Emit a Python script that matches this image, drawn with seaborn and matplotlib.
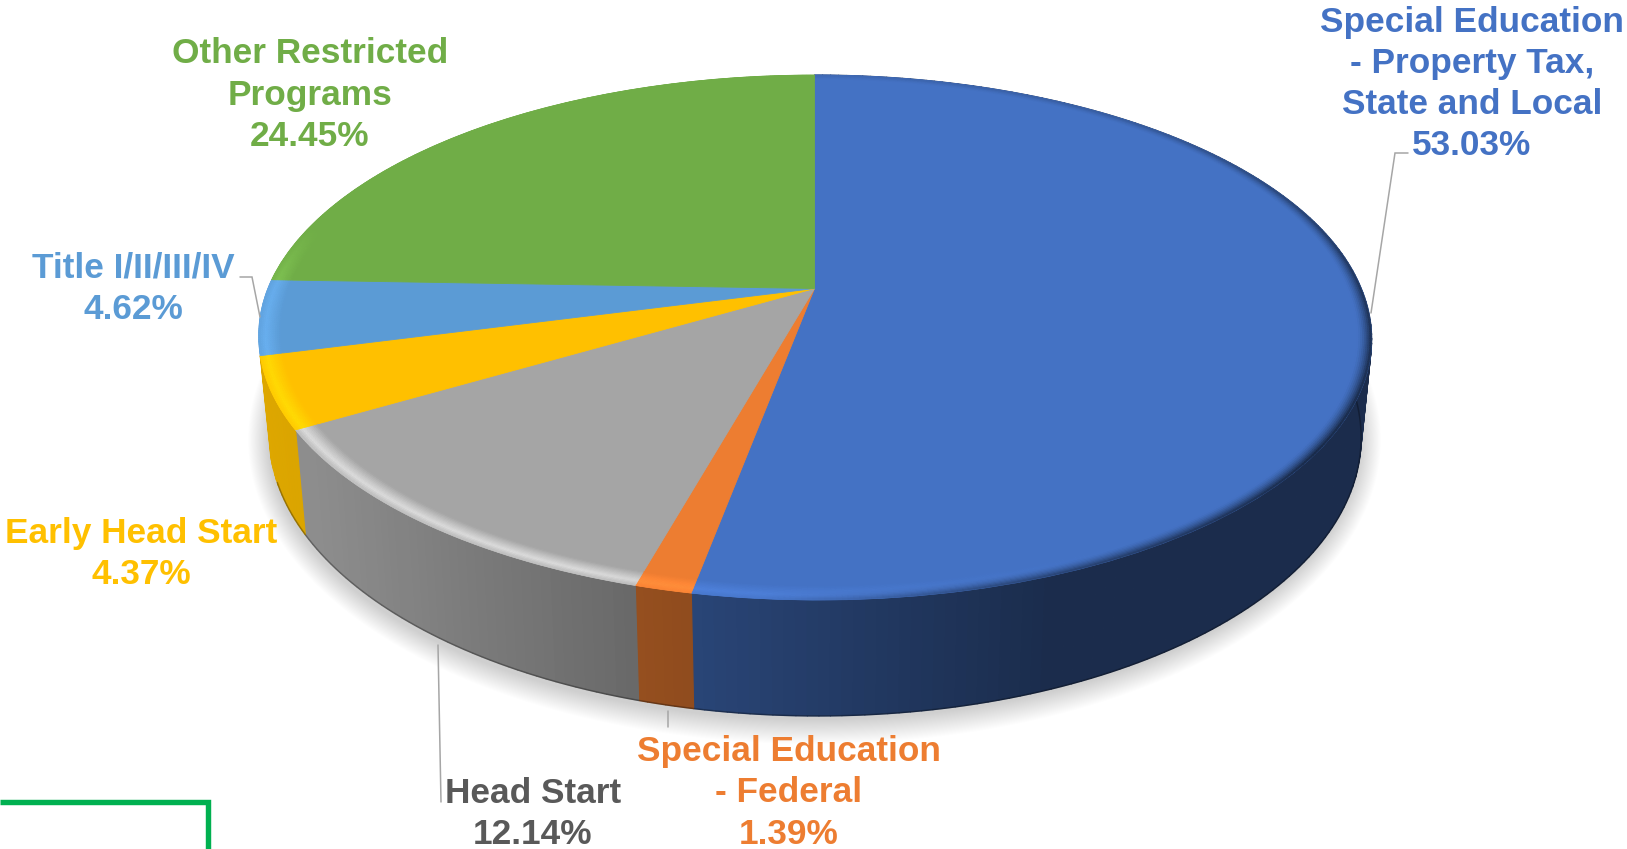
import numpy as np
import matplotlib
matplotlib.use("Agg")
import matplotlib.pyplot as plt
import matplotlib.transforms as mtransforms
from matplotlib.collections import PolyCollection
import seaborn as sns

# Budget shares, clockwise from twelve o'clock
programs = ["Special Education\n- Property Tax,\nState and Local",
            "Special Education\n- Federal",
            "Head Start",
            "Early Head Start",
            "Title I/II/III/IV",
            "Other Restricted\nPrograms"]
shares = [53.03, 1.39, 12.14, 4.37, 4.62, 24.45]
slice_colors = ["#4472C4", "#ED7D31", "#A5A5A5", "#FFC000", "#5B9BD5", "#70AD47"]
text_colors = ["#4472C4", "#ED7D31", "#595959", "#FFC000", "#5B9BD5", "#70AD47"]

# Label anchors in figure pixels (top-left origin)
label_x = [1472, 789, 533, 141, 133, 310]
label_y = [84, 793, 814, 554, 289, 95]

# Leader lines, figure pixels
leaders = [([1408, 1395, 1371], [153, 153, 313]),
           ([668, 668], [711, 727]),
           ([438, 441], [645, 802]),
           ([240, 252, 260], [277, 277, 317])]

W, H = 1627, 849
sns.set_theme(style="white")
plt.rcParams["font.family"] = ["Liberation Sans", "DejaVu Sans"]
plt.rcParams["font.weight"] = "bold"

# Camera model for the tilted disc
CX, CY = 814.5, 288.5
PERSP = 0.1867
RX, RY = 546.7, 253.3
NEAR_SKEW = 3.5
TOP_CY, TOP_A, TOP_B = 337.5, 556.5, 262.5
BASE_CY, BASE_A, BASE_B = 436.0, 546.0, 280.0


class DiscProjection(mtransforms.Transform):
    """Maps the unit disc of a pie to the tilted top face, in figure pixels."""
    input_dims = 2
    output_dims = 2
    is_separable = False
    has_inverse = False

    def transform_non_affine(self, values):
        xy = np.asarray(values, dtype=float)
        w = 1 + PERSP * xy[:, 1]
        skew = NEAR_SKEW * np.clip(-xy[:, 1], 0, None)
        return np.column_stack([CX + RX * xy[:, 0] / w + skew, CY - RY * xy[:, 1] / w])


projection = DiscProjection()


def top_point(t_deg, r=1.0):
    t = np.radians(t_deg)
    return projection.transform_non_affine(np.column_stack([r * np.cos(t), r * np.sin(t)]))


def base_from_top(p):
    return np.column_stack([CX + (BASE_A / TOP_A) * (p[:, 0] - CX),
                            BASE_CY + (BASE_B / TOP_B) * (p[:, 1] - TOP_CY)])


def wall_shade(x):
    return np.interp(x, [258, 320, 640, 700, 1050, 1372], [0.87, 0.85, 0.63, 0.60, 0.39, 0.39])


def clockwise_angle(t_deg):
    return (90 - t_deg) % 360


fig = plt.figure(figsize=(W / 100, H / 100), dpi=100, facecolor="white")
ax = fig.add_axes([0, 0, 1, 1])

palette = sns.color_palette(slice_colors)
wedges, _ = ax.pie(shares, colors=palette, startangle=90, counterclock=False,
                   radius=1, frame=False, wedgeprops=dict(linewidth=0.6))
ax.set_aspect("auto")
ax.set_xlim(0, W)
ax.set_ylim(H, 0)
ax.axis("off")

for w in wedges:
    w.set_transform(projection + ax.transData)
    w.set_edgecolor(w.get_facecolor())
    w.set_zorder(3)

# Soft ground shadow around the base of the disc
ring_t = np.radians(np.linspace(0, 360, 361))
for d in np.linspace(24, 0, 24):
    ax.fill(CX + (BASE_A + d * 0.85) * np.cos(ring_t),
            BASE_CY + 4 + (BASE_B + d) * np.sin(ring_t),
            color="black", alpha=0.0065, lw=0, zorder=1)

# Side wall, one shaded strip per degree of arc; the two rear slices stay hidden
wall_polys, wall_cols = [], []
for w, col in list(zip(wedges, palette))[:4]:
    steps = max(int(np.ceil(w.theta2 - w.theta1)), 1)
    ts = np.linspace(w.theta1, w.theta2, steps + 1)
    top = top_point(ts)
    base = base_from_top(top)
    for i in range(steps):
        wall_polys.append([top[i], top[i + 1], base[i + 1], base[i]])
        shade = wall_shade(0.5 * (top[i, 0] + top[i + 1, 0]))
        wall_cols.append(tuple(np.array(col) * shade))
ax.add_collection(PolyCollection(wall_polys, facecolors=wall_cols, edgecolors=wall_cols,
                                 linewidths=0.9, zorder=2))

# Thin dark line along the lower rim of the wall
rim_t = np.linspace(200, 360, 321)
rim = base_from_top(top_point(rim_t))
ax.plot(rim[:, 0], rim[:, 1], color="black", alpha=0.3, lw=1.1, zorder=2.5)

# Bevel on the rim of the top face: bright on the near left, dark on the right
radii = np.linspace(0.962, 1.0, 13)
bevel_polys, bevel_cols = [], []
for w, col in zip(wedges, palette):
    col = np.array(col)
    steps = max(int(np.ceil((w.theta2 - w.theta1) * 2)), 1)
    ts = np.linspace(w.theta1, w.theta2, steps + 1)
    is_gray = abs(col[0] - col[2]) < 0.01
    gain = 0.22 if is_gray else 0.12
    for j in range(len(radii) - 1):
        r0, r1 = radii[j], radii[j + 1]
        rm = 0.5 * (r0 + r1)
        inner, outer = top_point(ts, r0), top_point(ts, r1)
        glow = np.interp(rm, [0.962, 0.988, 1.0], [0, 1, 0.45])
        dark = np.interp(rm, [0.975, 1.0], [0, 1]) ** 1.6
        for i in range(steps):
            phi = clockwise_angle(0.5 * (ts[i] + ts[i + 1]))
            light = np.interp(phi, [150, 185, 200, 240, 272, 285], [0, 0.75, 1, 1, 0.8, 0])
            shadow = np.interp(phi, [0, 40, 85, 125, 165, 185, 360], [0.08, 0.2, 0.55, 0.7, 0.4, 0, 0])
            c = col * (1 - shadow * dark)
            c = np.clip(c + gain * light * glow * (1.0 if is_gray else col + 0.15), 0, 1)
            bevel_polys.append([inner[i], inner[i + 1], outer[i + 1], outer[i]])
            bevel_cols.append(tuple(c))
ax.add_collection(PolyCollection(bevel_polys, facecolors=bevel_cols, edgecolors=bevel_cols,
                                 linewidths=0.4, zorder=4))

# Leader lines
for xs, ys in leaders:
    ax.plot(xs, ys, color="#A6A6A6", lw=1.1, solid_joinstyle="miter", zorder=5)

# Data labels
for name, share, x, y, tc in zip(programs, shares, label_x, label_y, text_colors):
    ax.text(x, y, f"{name}\n{share:.2f}%", color=tc, fontsize=25.4, fontweight="bold",
            ha="center", va="center", linespacing=1.32, zorder=6)

# Corner of the green callout box below the chart
ax.plot([0, 208, 208], [802, 802, H], color="#00B050", lw=3.9,
        solid_joinstyle="miter", solid_capstyle="butt", zorder=5)

fig.savefig("out.png", dpi=100, facecolor="white")
